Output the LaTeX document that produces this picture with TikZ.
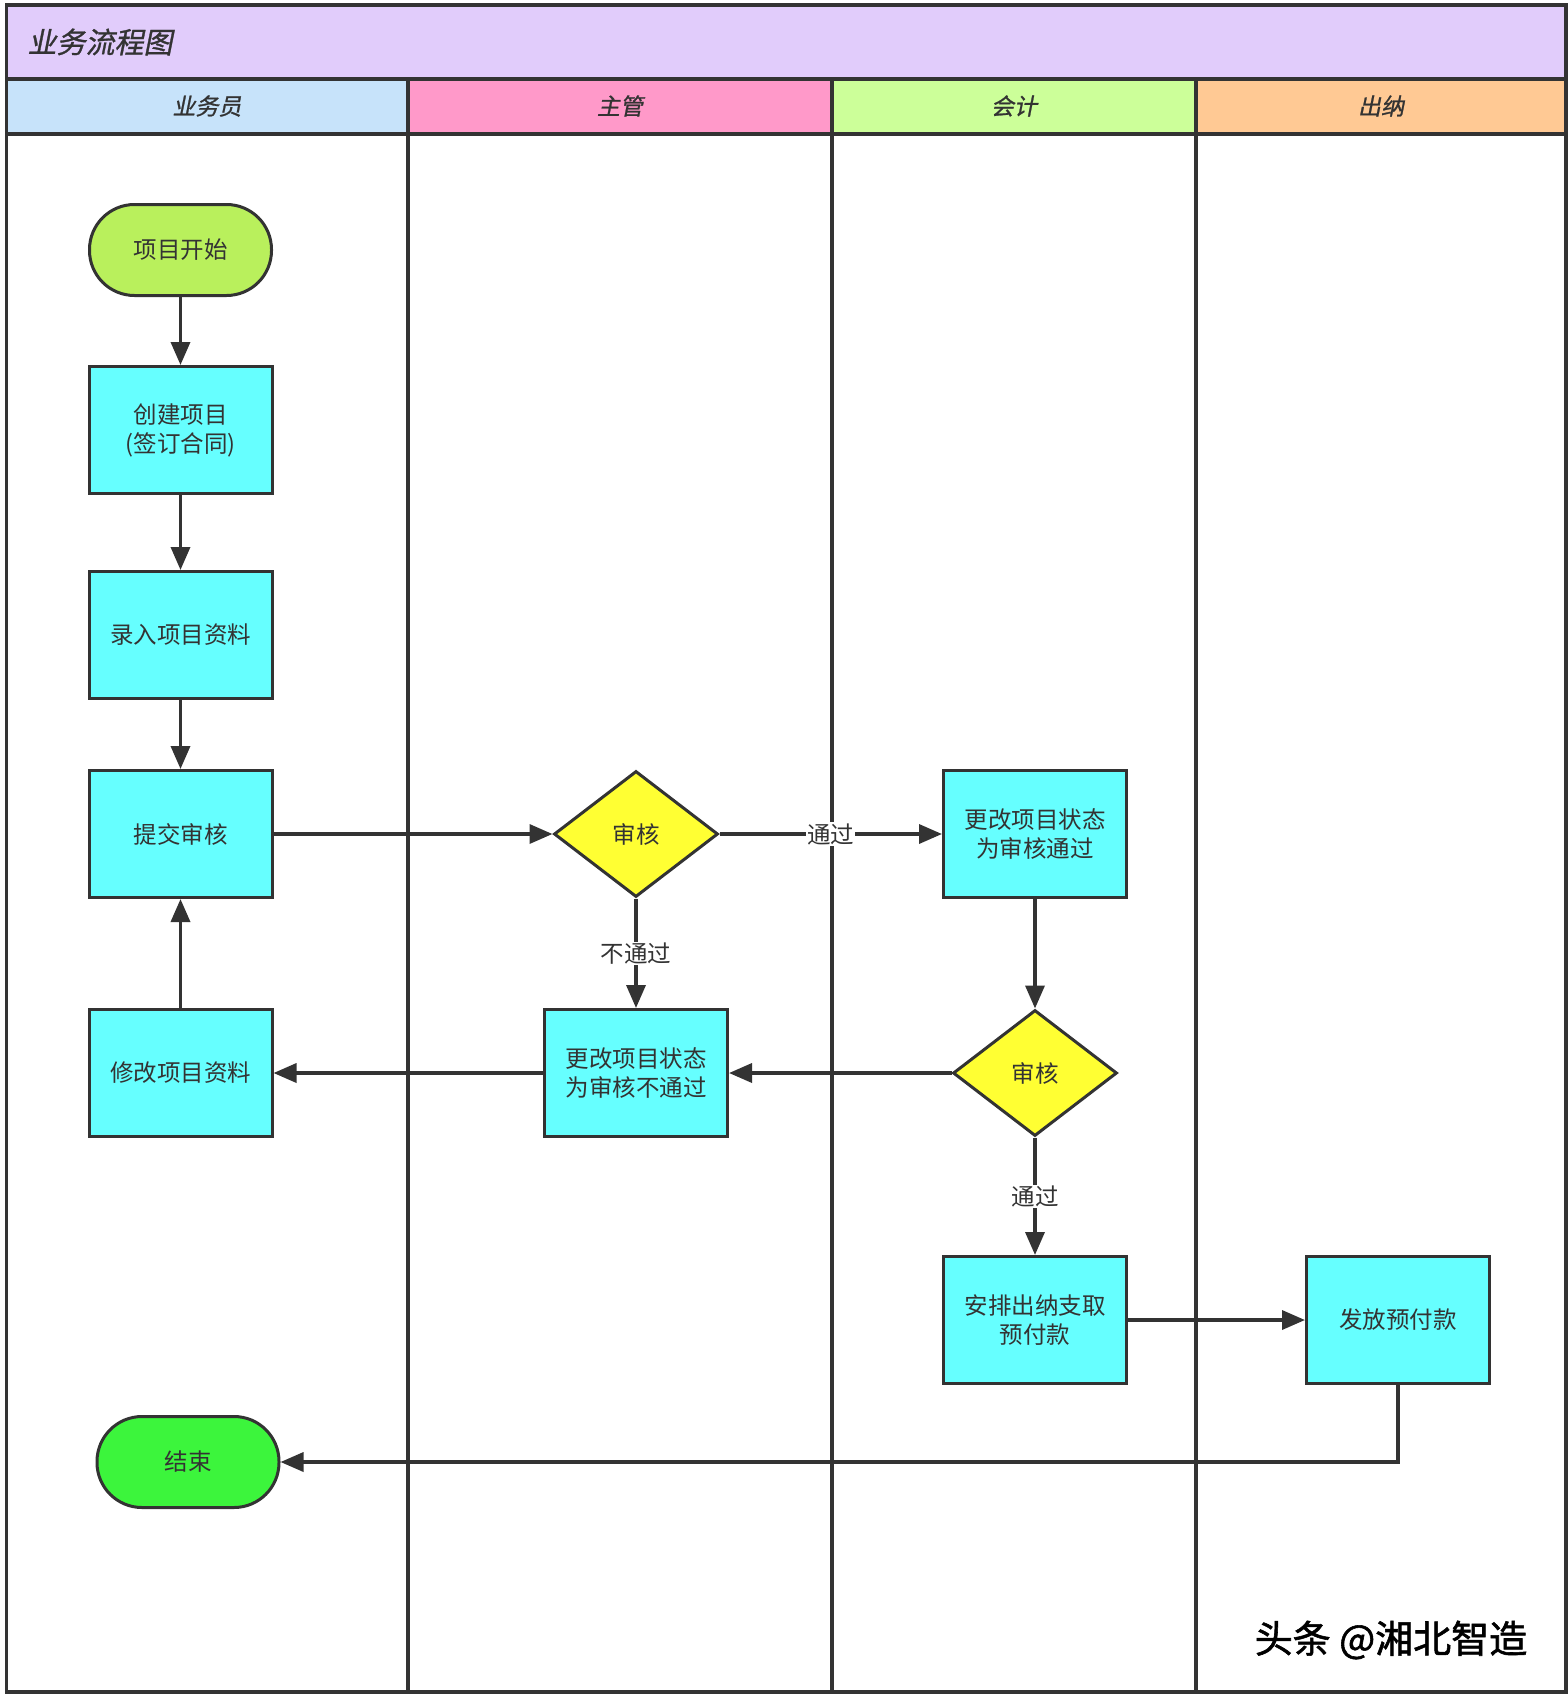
\documentclass[tikz,border=0pt]{standalone}
\usepackage{fontspec}
\setmainfont{Noto Sans CJK SC}
\newfontfamily\slantcjk[FakeSlant=0.2,FakeBold=1]{Noto Sans CJK SC}
\newfontfamily\markcjk[FakeBold=1.5]{Noto Sans CJK SC}
\usepackage{tikz}
\usetikzlibrary{shapes.geometric}
\usetikzlibrary{arrows.meta}

\definecolor{linegray}{HTML}{333333}
\definecolor{titlebg}{HTML}{E1CCFB}
\definecolor{laneblue}{HTML}{C7E3FA}
\definecolor{lanepink}{HTML}{FF99C9}
\definecolor{lanegreen}{HTML}{CCFF99}
\definecolor{laneorange}{HTML}{FFC994}
\definecolor{boxcyan}{HTML}{66FFFF}
\definecolor{diayellow}{HTML}{FFFF33}
\definecolor{startgreen}{HTML}{B9F05C}
\definecolor{endgreen}{HTML}{3CF53C}

\begin{document}
\begin{tikzpicture}[x=1pt,y=-1pt,
		every node/.style={font=\fontsize{23.5}{29}\selectfont,text=linegray},
		lane/.style={draw=linegray,line width=3.5pt},
		procbox/.style={draw=linegray,line width=3pt,fill=boxcyan,minimum width=183pt,minimum height=127pt,inner sep=0pt,align=center},
		decision/.style={diamond,draw=linegray,line width=3pt,fill=diayellow,minimum width=164pt,minimum height=126pt,inner sep=0pt},
		terminal/.style={draw=linegray,line width=3pt,rounded corners=45pt,minimum width=182pt,minimum height=91pt,inner sep=0pt},
		flow/.style={draw=linegray,line width=3.5pt,-{Triangle[length=23pt,width=19pt]}},
		passlabel/.style={fill=white,inner sep=1pt}]
		\useasboundingbox (0,0) rectangle (1568,1694);
		
		% title and lane heads
		\fill[titlebg] (6.5,5) rectangle (1566,79);
		\fill[laneblue] (6.5,79) rectangle (408,134);
		\fill[lanepink] (408,79) rectangle (832,134);
		\fill[lanegreen] (832,79) rectangle (1196,134);
		\fill[laneorange] (1196,79) rectangle (1566,134);
		\draw[lane] (6.5,5) rectangle (1566,1692);
		\draw[lane] (6.5,79) -- (1566,79);
		\draw[lane] (6.5,134) -- (1566,134);
		\foreach \x in {408,832,1196}
			\draw[lane] (\x,79) -- (\x,1692);
		
		\node[anchor=west,font=\slantcjk\fontsize{29}{34}\selectfont] (title) at (24,42) {业务流程图};
		\node[font=\slantcjk\fontsize{23}{28}\selectfont] (head1) at (207,106) {业务员};
		\node[font=\slantcjk\fontsize{23}{28}\selectfont] (head2) at (620,106) {主管};
		\node[font=\slantcjk\fontsize{23}{28}\selectfont] (head3) at (1014,106) {会计};
		\node[font=\slantcjk\fontsize{23}{28}\selectfont] (head4) at (1381,106) {出纳};
		
		% nodes
		\node[terminal,fill=startgreen] (start) at (180.5,250) {项目开始};
		\node[procbox] (create) at (180.5,430) {创建项目\\(签订合同)};
		\node[procbox] (enter) at (180.5,635) {录入项目资料};
		\node[procbox] (submit) at (180.5,834) {提交审核};
		\node[procbox] (modify) at (180.5,1073) {修改项目资料};
		\node[terminal,fill=endgreen] (finish) at (188,1462) {结束};
		
		\node[decision] (check1) at (636,834) {审核};
		\node[procbox] (reject) at (636,1073) {更改项目状态\\为审核不通过};
		
		\node[procbox] (accept) at (1035,834) {更改项目状态\\为审核通过};
		\node[decision] (check2) at (1035,1073) {审核};
		\node[procbox] (arrange) at (1035,1320) {安排出纳支取\\预付款};
		
		\node[procbox] (pay) at (1398,1320) {发放预付款};
		
		% connectors
		\draw[flow] (start) -- (create);
		\draw[flow] (create) -- (enter);
		\draw[flow] (enter) -- (submit);
		\draw[flow] (modify) -- (submit);
		\draw[flow] (submit) -- (check1);
		\draw[flow] (check1) -- node[passlabel] {通过} (accept);
		\draw[flow] (check1) -- node[passlabel] {不通过} (reject);
		\draw[flow] (accept) -- (check2);
		\draw[flow] (check2) -- (reject);
		\draw[flow] (reject) -- (modify);
		\draw[flow] (check2) -- node[passlabel] {通过} (arrange);
		\draw[flow] (arrange) -- (pay);
		\draw[flow] (pay.south) |- (finish.east);
		
		\node[font=\markcjk\fontsize{38}{44}\selectfont,text=black] (mark) at (1391,1640) {头条 @湘北智造};
	\end{tikzpicture}
\end{document}
